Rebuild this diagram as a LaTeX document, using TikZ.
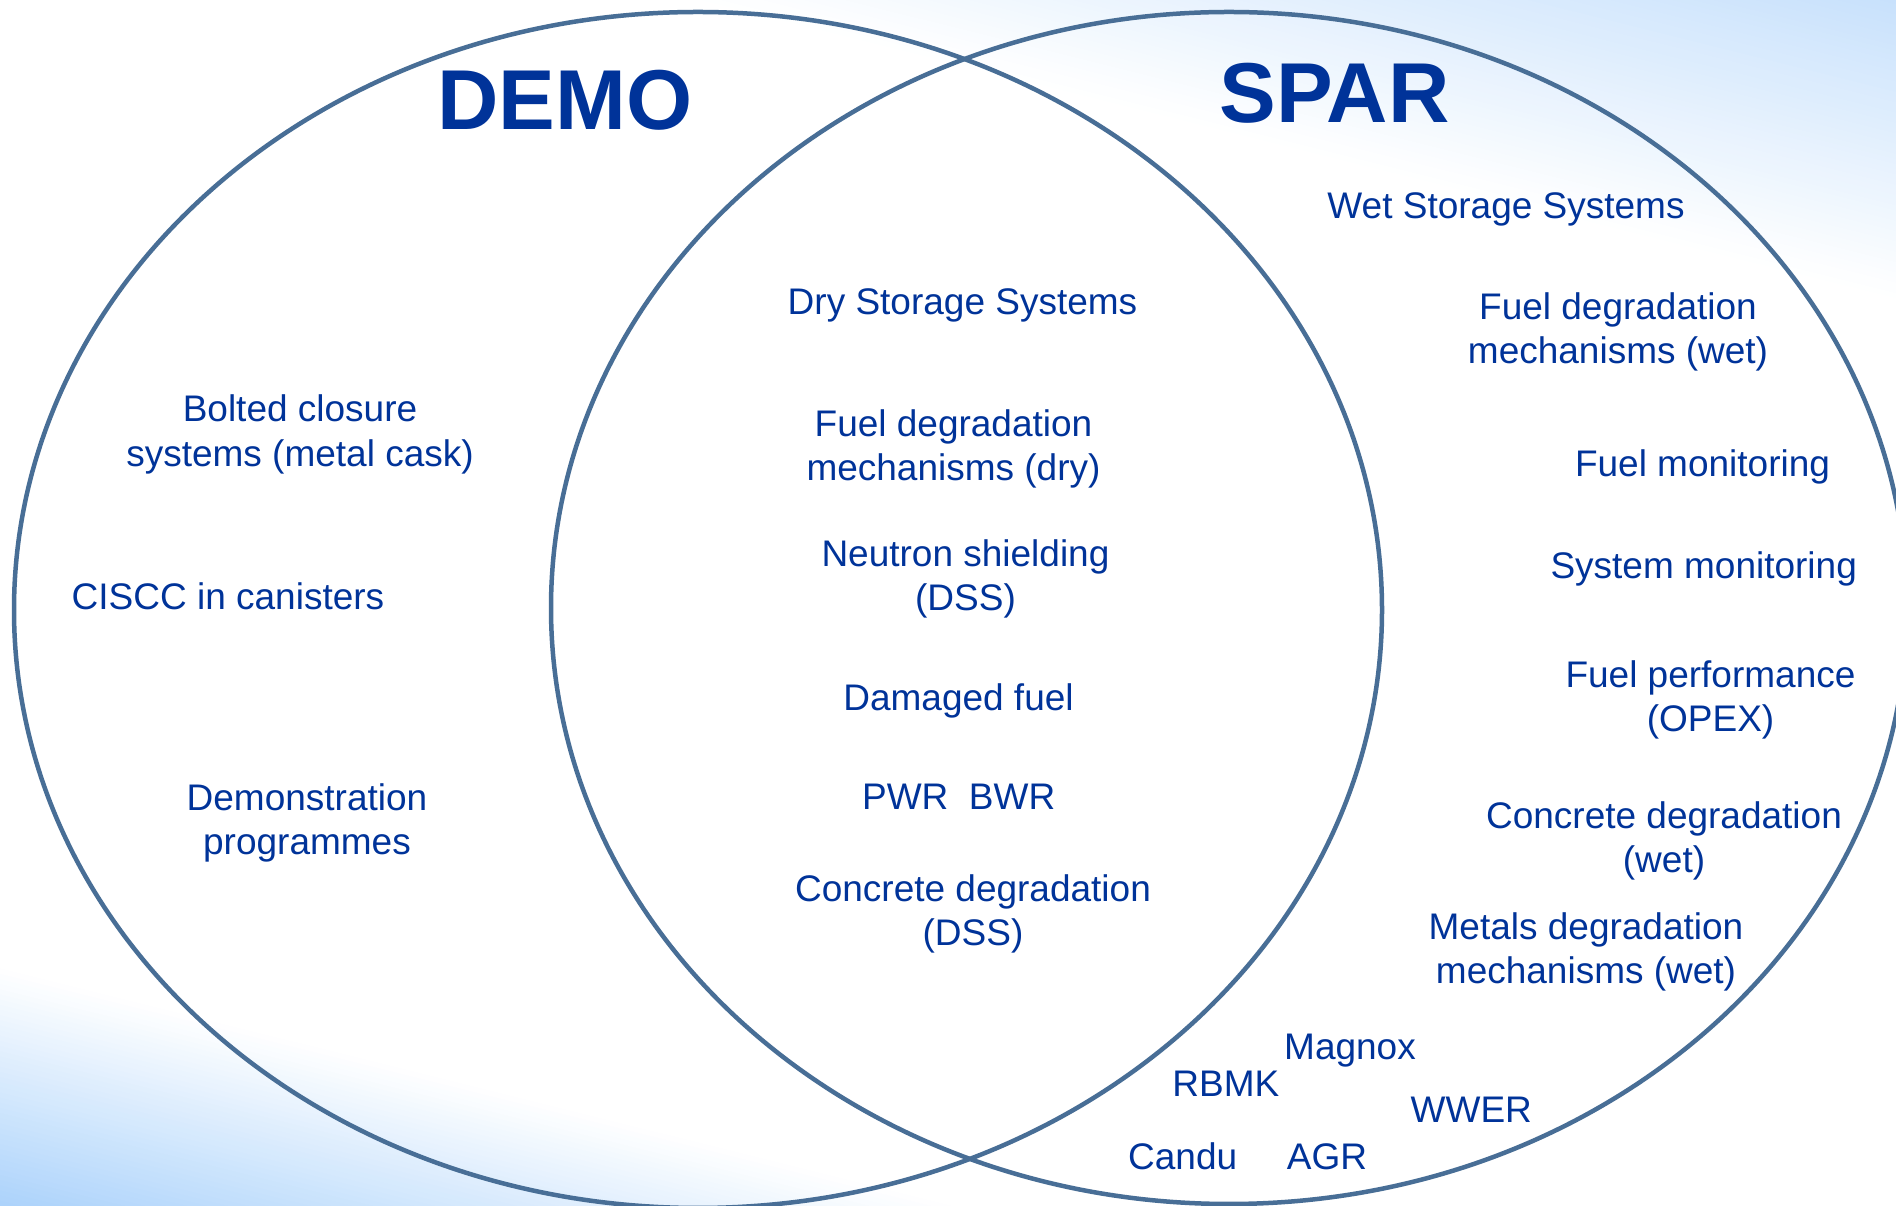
\documentclass[tikz,border=0pt]{standalone}
\usepackage{fontspec}
\setmainfont{Liberation Sans}
\definecolor{txtblue}{RGB}{0,51,153}
\definecolor{ringc}{RGB}{72,110,150}
\definecolor{bgA}{RGB}{172,211,251}
\definecolor{bgB}{RGB}{200,225,252}
\tikzset{
  lbl/.style={text=txtblue, inner sep=0pt, outer sep=0pt, font=\fontsize{9.25}{11}\selectfont},
  lblm/.style={lbl, align=center, anchor=north},
  ttl/.style={text=txtblue, inner sep=0pt, outer sep=0pt, anchor=base, font=\bfseries\fontsize{21.25}{25}\selectfont},
  ring/.style={draw=ringc, line width=1.125pt},
}
\begin{document}
\begin{tikzpicture}[x=0.25pt, y=-0.25pt]
\useasboundingbox (0,0) rectangle (1896,1206);
\fill[white] (0,0) rectangle (1896,1206);
% background gradients
\begin{scope}
  \clip (0,0) rectangle (1896,1206);
  \begin{scope}[shift={(0,1206)}, yscale=-1, rotate=14]
    \foreach \i in {0,...,45} {
      \pgfmathsetmacro\pc{100*(\i+0.5)/46}
      \fill[bgA!\pc!white] (-3000,-900) rectangle (4000,{230-\i*5});
    }
    \foreach \i in {0,...,57} {
      \pgfmathsetmacro\pc{100*(\i+0.5)/58}
      \fill[bgB!\pc!white] (-3000,{1340+\i*5}) rectangle (4000,2600);
    }
  \end{scope}
\end{scope}
% circles
\draw[ring] (698,610) ellipse [x radius=684, y radius=598];
\draw[ring] (1229,608) ellipse [x radius=678, y radius=596];
% titles
\node[ttl] (demo) at (565,129.3) {DEMO};
\node[ttl] (spar) at (1334.7,122.3) {SPAR};
% left
\node[lblm] (bolted) at (300,395.2) {Bolted closure\\systems (metal cask)};
\node[lbl, anchor=base] (ciscc) at (228,610) {CISCC in canisters};
\node[lblm] (demoprog) at (307,783.5) {Demonstration\\programmes};
% centre
\node[lbl, anchor=base] (dry) at (962.5,315) {Dry Storage Systems};
\node[lblm] (fueldry) at (953.5,409.2) {Fuel degradation\\mechanisms (dry)};
\node[lblm] (neutron) at (965.5,539.2) {Neutron shielding\\(DSS)};
\node[lbl, anchor=base] (damaged) at (958.5,710.7) {Damaged fuel};
\node[lbl, anchor=base] (pwrbwr) at (958.7,809.3) {PWR~~BWR};
\node[lblm] (concdss) at (973,874.5) {Concrete degradation\\(DSS)};
% right
\node[lbl, anchor=base] (wet) at (1506,219) {Wet Storage Systems};
\node[lblm] (fuelwet) at (1618,292.5) {Fuel degradation\\mechanisms (wet)};
\node[lbl, anchor=base] (fuelmon) at (1702.5,476.4) {Fuel monitoring};
\node[lbl, anchor=base] (sysmon) at (1703.7,578.2) {System monitoring};
\node[lblm] (fuelperf) at (1710.5,660.5) {Fuel performance\\(OPEX)};
\node[lblm] (concwet) at (1664,801.7) {Concrete degradation\\(wet)};
\node[lblm] (metals) at (1586,912.4) {Metals degradation\\mechanisms (wet)};
% reactor types
\node[lbl, anchor=base] (magnox) at (1350,1060) {Magnox};
\node[lbl, anchor=base] (rbmk) at (1225.8,1096.7) {RBMK};
\node[lbl, anchor=base] (wwer) at (1471.3,1122.7) {WWER};
\node[lbl, anchor=base] (candu) at (1182.7,1169.3) {Candu};
\node[lbl, anchor=base] (agr) at (1327,1170) {AGR};
\end{tikzpicture}
\end{document}
